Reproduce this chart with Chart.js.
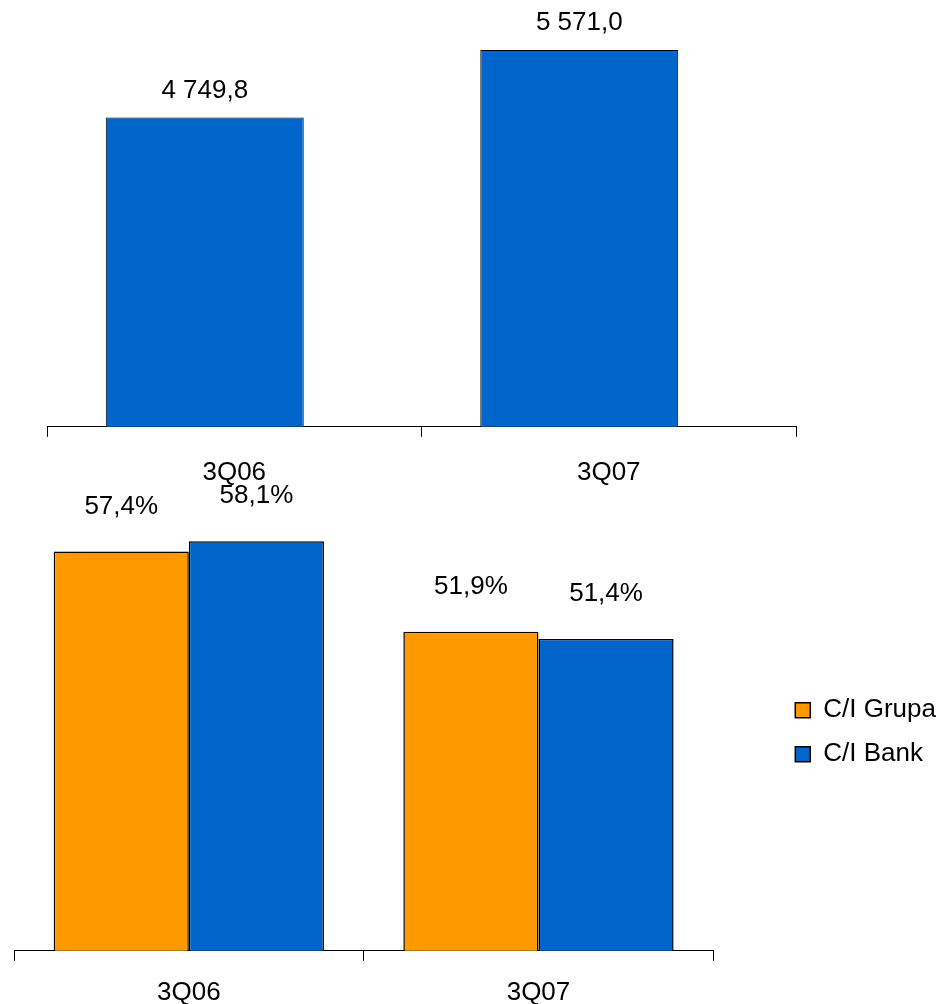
<!DOCTYPE html>
<html><head><meta charset="utf-8">
<script src="https://cdn.jsdelivr.net/npm/chart.js@4"></script>
<style>
html,body{margin:0;padding:0;background:#fff;overflow:hidden;width:940px;height:1004px;}
#top{position:absolute;left:0;top:0;width:940px;height:508px;}
#bot{position:absolute;left:0;top:480px;width:960px;height:544px;}
</style></head><body>
<div id="top"><canvas id="c1"></canvas></div>
<div id="bot"><canvas id="c2"></canvas></div>
<script>
const categories = ['3Q06', '3Q07'];
const assetValues = [4749.8, 5571.0];
const emptySeries = [null, null];
const grupaValues = [57.4, 51.9];
const bankValues = [58.1, 51.4];
const seriesNames = ['C/I Grupa', 'C/I Bank'];

const FAMILY = "'Liberation Sans', Arial, sans-serif";
const BLUE = '#0066CC';
const ORANGE = '#FF9900';

function fmtNum(v) {
  const parts = v.toFixed(1).split('.');
  return parts[0].replace(/\B(?=(\d{3})+(?!\d))/g, ' ') + ',' + parts[1];
}
function fmtPct(v) { return v.toFixed(1).replace('.', ',') + '%'; }

function makeLabelPlugin(id, formatter, offset) {
  return {
    id: id,
    afterDatasetsDraw(chart) {
      const ctx = chart.ctx;
      ctx.save();
      ctx.font = '26px ' + FAMILY;
      ctx.fillStyle = '#000';
      ctx.textAlign = 'center';
      ctx.textBaseline = 'middle';
      chart.data.datasets.forEach((ds, i) => {
        const meta = chart.getDatasetMeta(i);
        meta.data.forEach((bar, j) => {
          const v = ds.data[j];
          if (v === null || v === undefined) return;
          ctx.fillText(formatter(v), bar.x, bar.y - offset);
        });
      });
      ctx.restore();
    }
  };
}

const xAxisBase = (pad) => ({
  type: 'category',
  offset: true,
  grid: { display: true, offset: true, drawOnChartArea: false, drawTicks: true, tickLength: 10, color: '#000', lineWidth: 1 },
  border: { display: true, color: '#000', width: 1 },
  ticks: { font: { family: FAMILY, size: 26 }, color: '#000', padding: pad, maxRotation: 0, autoSkip: false }
});

new Chart(document.getElementById('c1'), {
  type: 'bar',
  data: {
    labels: categories,
    datasets: [
      { data: assetValues, backgroundColor: BLUE, borderColor: '#000', borderWidth: 1, borderSkipped: false, categoryPercentage: 0.315, barPercentage: 3.356 },
      { data: emptySeries, backgroundColor: BLUE, borderColor: '#000', borderWidth: 1, categoryPercentage: 0.315, barPercentage: 3.356 }
    ]
  },
  options: {
    responsive: true, maintainAspectRatio: false, animation: false,
    layout: { padding: { left: 47, right: 144, top: 14.5, bottom: 0 } },
    plugins: { legend: { display: false }, tooltip: { enabled: false } },
    scales: {
      x: xAxisBase(20),
      y: { display: false, min: 1000, max: 6000 }
    }
  },
  plugins: [makeLabelPlugin('topLabels', fmtNum, 27)]
});

new Chart(document.getElementById('c2'), {
  type: 'bar',
  data: {
    labels: categories,
    datasets: [
      { label: seriesNames[0], data: grupaValues, yAxisID: 'y', backgroundColor: ORANGE, borderColor: '#000', borderWidth: 1.5, borderSkipped: false, categoryPercentage: 0.773, barPercentage: 1 },
      { label: seriesNames[1], data: bankValues, yAxisID: 'y', backgroundColor: BLUE, borderColor: '#000', borderWidth: 1.5, borderSkipped: false, categoryPercentage: 0.773, barPercentage: 1 }
    ]
  },
  options: {
    responsive: true, maintainAspectRatio: false, animation: false,
    layout: { padding: { left: 14, right: 14, top: 33.6, bottom: 0 } },
    plugins: {
      tooltip: { enabled: false },
      legend: {
        display: true, position: 'right', align: 'center', fullSize: false,
        labels: { boxWidth: 15, boxHeight: 15, padding: 18, color: '#000', font: { family: FAMILY, size: 26 } }
      }
    },
    scales: {
      x: xAxisBase(16),
      y: { display: false, min: 30, max: 60 },
      yR: {
        position: 'right', display: true,
        grid: { display: false }, border: { display: false }, ticks: { display: false },
        afterFit(s) { s.width = 64; }
      }
    }
  },
  plugins: [makeLabelPlugin('botLabels', fmtPct, 45)]
});
</script>
</body></html>
